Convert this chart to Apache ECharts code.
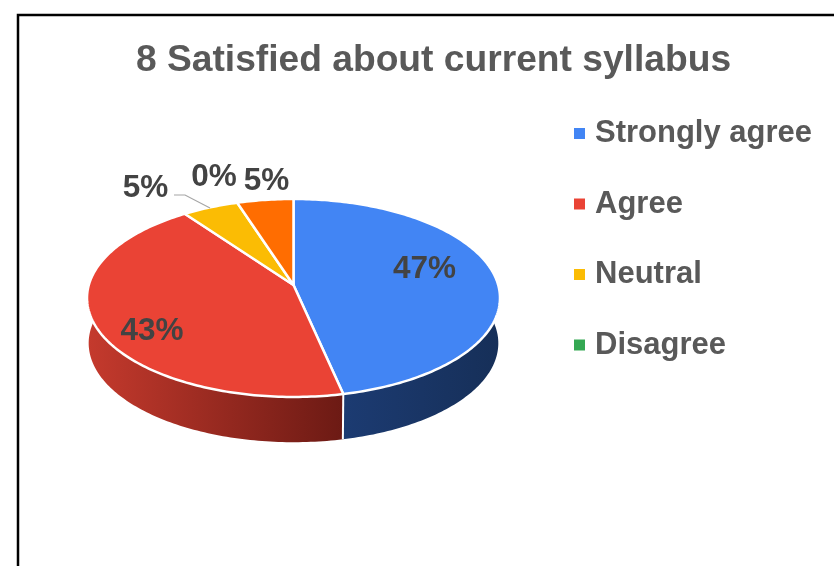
<!DOCTYPE html>
<html>
<head>
<meta charset="utf-8">
<style>html,body{margin:0;padding:0;background:#fff}#c{width:834px;height:566px}</style>
<script src="https://cdn.jsdelivr.net/npm/echarts@6/dist/echarts.min.js"></script>
</head>
<body>
<div id="c"></div>
<script>
const titleText = '8 Satisfied about current syllabus';
const categories = ['Strongly agree', 'Agree', 'Neutral', 'Disagree', 'Strongly disagree'];
const legendCategories = ['Strongly agree', 'Agree', 'Neutral', 'Disagree'];
const values = [46.6, 43.4, 5, 0, 5];

const colors = ['#4285F4', '#EA4335', '#FBBC04', '#34A853', '#FF6D01'];
const sideStops = [['#1c3b72', '#162f58'], ['#c53a2d', '#6c1a14'], ['#b08500', '#b08500'], ['#24753a', '#24753a'], ['#b34c01', '#b34c01']];
const labelPlaces = [[424.5, 269], [152, 331], [145.5, 188], [214, 177], [266.5, 181]];

const PERSPECTIVE = 0.131, DEPTH = 0.465, BASE_SCALE = 0.992, SILHOUETTE = Math.asin(PERSPECTIVE);
const total = values.reduce((a, b) => a + b, 0);
let running = 0;
const spans = values.map(v => { const s = running; running += v; return [s / total * 360, running / total * 360]; });

function disc(deg, lower) {
  const t = deg * Math.PI / 180, u = Math.sin(t), v = -Math.cos(t), s = 1 / (1 - PERSPECTIVE * v);
  return lower ? [u * s * BASE_SCALE, v * s + DEPTH] : [u * s, v * s];
}
function arc(a, b, lower) {
  const out = [], n = Math.max(1, Math.ceil(Math.abs(b - a)));
  for (let i = 0; i <= n; i++) out.push(disc(a + (b - a) * i / n, lower));
  return out;
}
function makeRender(idx) {
  return function (params, api) {
    const a = api.value(0), b = api.value(1), children = [];
    const toPx = p => api.coord(p);
    if (b > a) {
      const frontStart = 90 - SILHOUETTE * 180 / Math.PI, frontEnd = 270 + SILHOUETTE * 180 / Math.PI;
      const sa = Math.max(a, frontStart), sb = Math.min(b, frontEnd);
      if (sb > sa) {
        children.push({
          type: 'polygon',
          shape: { points: arc(sa, sb, false).concat(arc(sb, sa, true)).map(toPx) },
          style: {
            fill: new echarts.graphic.LinearGradient(0, 0, 1, 0, [
              { offset: 0, color: sideStops[idx][0] }, { offset: 1, color: sideStops[idx][1] }
            ])
          }
        });
        if (sb === b && sb < frontEnd) {
          children.push({
            type: 'polyline', z2: 5,
            shape: { points: [disc(b, false), disc(b, true)].map(toPx) },
            style: { fill: 'none', stroke: '#fff', lineWidth: 2 }
          });
        }
      }
    }
    return { type: 'group', children };
  };
}
function makeTopRender(idx) {
  return function (params, api) {
    const a = api.value(0), b = api.value(1), children = [];
    const toPx = p => api.coord(p);
    if (b > a) {
      children.push({
        type: 'polygon',
        shape: { points: [[0, 0]].concat(arc(a, b, false)).map(toPx) },
        style: { fill: colors[idx], stroke: '#fff', lineWidth: 2.5, lineJoin: 'round' }
      });
    }
    children.push({
      type: 'text', z2: 50,
      style: {
        x: labelPlaces[idx][0], y: labelPlaces[idx][1], text: Math.round(values[idx] / total * 100) + '%',
        fill: '#434343', font: 'bold 31.5px "Liberation Sans", Arial, sans-serif',
        align: 'center', verticalAlign: 'middle'
      }
    });
    return { type: 'group', children };
  };
}

const chart = echarts.init(document.getElementById('c'), null, { renderer: 'canvas' });
const sideSeries = categories.map((name, i) => ({
  type: 'custom', name, coordinateSystem: 'cartesian2d', clip: false, z: 2,
  itemStyle: { color: colors[i] }, encode: { x: 0, y: 1 },
  data: [spans[i]], renderItem: makeRender(i)
}));
const topSeries = categories.map((name, i) => ({
  type: 'custom', name, coordinateSystem: 'cartesian2d', clip: false, z: 3,
  itemStyle: { color: colors[i] }, encode: { x: 0, y: 1 },
  data: [spans[i]], renderItem: makeTopRender(i)
}));
chart.setOption({
  animation: false,
  backgroundColor: '#fff',
  title: {
    text: titleText, left: 428.5, top: 37, textAlign: 'center',
    textStyle: { color: '#595959', fontSize: 37.2, fontWeight: 'bold', fontFamily: '"Liberation Sans", Arial, sans-serif' }
  },
  legend: {
    data: legendCategories, orient: 'vertical', left: 574, top: 118, padding: 0, icon: 'rect',
    itemWidth: 11, itemHeight: 11, itemGap: 39.5, selectedMode: false,
    textStyle: { color: '#595959', fontSize: 31, fontWeight: 'bold', fontFamily: '"Liberation Sans", Arial, sans-serif', padding: [0, 0, 0, 5] }
  },
  grid: { left: 88.8, width: 409.4, top: 187.7, height: 194.6, containLabel: false },
  xAxis: { type: 'value', min: -1, max: 1, show: false },
  yAxis: { type: 'value', min: -1, max: 1, inverse: true, show: false },
  graphic: [
    { type: 'rect', shape: { x: 18, y: 15, width: 900, height: 700 }, style: { fill: 'none', stroke: '#000', lineWidth: 2.5 }, silent: true },
    { type: 'polyline', shape: { points: [[174, 195], [185, 195], [210, 208]] }, style: { fill: 'none', stroke: '#a6a6a6', lineWidth: 1.2 }, z: 20, silent: true }
  ],
  series: sideSeries.concat(topSeries)
});
</script>
</body>
</html>
